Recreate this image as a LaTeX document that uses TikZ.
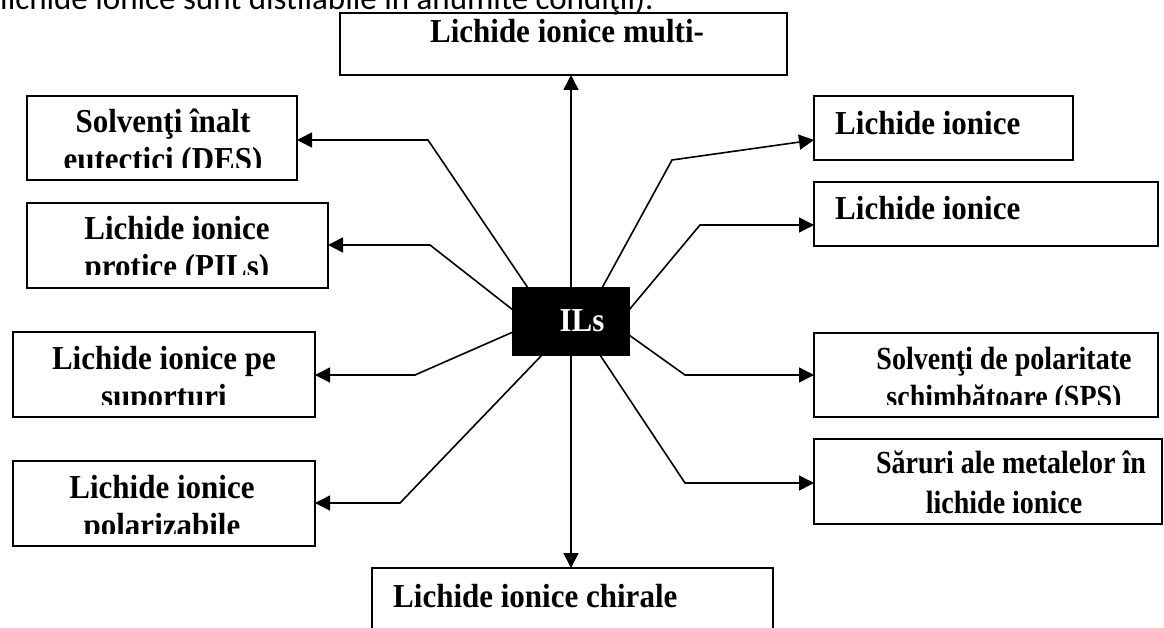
\documentclass[tikz,border=0pt]{standalone}
\usepackage{fontspec}
\usepackage{graphicx}
\setmainfont{Liberation Serif}
\newfontfamily\bodyfont{Carlito}
\usetikzlibrary{arrows.meta}
\newcommand{\tall}[1]{\scalebox{1}[1.08]{#1}}
\newcommand{\taller}[1]{\scalebox{1}[1.15]{#1}}
\begin{document}
\begin{tikzpicture}[x=1pt,y=-1pt,
  box/.style={draw=black,line width=1.8pt,rectangle,inner sep=0pt,outer sep=0pt,anchor=north west},
  lbl/.style={font=\fontsize{31}{31}\selectfont\bfseries,inner sep=0pt,anchor=base},
  lbls/.style={lbl,font=\fontsize{28}{28}\selectfont\bfseries},
  lbll/.style={lbl,anchor=base west},
  conn/.style={line width=1.6pt},
  arr/.style={conn,-{Triangle[length=15pt,width=15pt]}}]
\useasboundingbox (0,0) rectangle (1164,628);

% cut-off sentence at the top
\begin{scope}
\clip (0,0) rectangle (1164,628);
\node[font=\bodyfont\fontsize{33}{33}\selectfont,anchor=base west,inner sep=0pt] (sent) at (0,10) {lichide ionice sunt distilabile în anumite condiţii).};
\end{scope}

% boxes
\node[box,minimum width=447pt,minimum height=62pt] (multi) at (340,13) {};
\node[box,minimum width=270pt,minimum height=84pt] (des) at (27,96) {};
\node[box,minimum width=301pt,minimum height=85pt] (pil) at (27,203) {};
\node[box,minimum width=302pt,minimum height=85pt] (sup) at (13,332) {};
\node[box,minimum width=302pt,minimum height=85pt] (pol) at (13,461) {};
\node[box,minimum width=259pt,minimum height=64pt] (li1) at (814,96) {};
\node[box,minimum width=344pt,minimum height=64pt] (li2) at (814,182) {};
\node[box,minimum width=344pt,minimum height=84pt] (sps) at (814,333) {};
\node[box,minimum width=348pt,minimum height=85pt] (sar) at (814,439) {};
\node[box,minimum width=401pt,minimum height=80pt] (chi) at (372,568) {};

% bends
\coordinate (bdes) at (428,140);
\coordinate (bpil) at (430,245);
\coordinate (bsup) at (415,375);
\coordinate (bpol) at (400,503);
\coordinate (bli1) at (672,160);
\coordinate (bli2) at (700,225);
\coordinate (bsps) at (685,375);
\coordinate (bsar) at (685,483);

% centre
\node[box,fill=black,minimum width=116pt,minimum height=67pt] (ils) at (513,288) {};

% connectors
\draw[arr] ([xshift=15pt]ils.north west) -- (bdes) -- (des.east |- bdes);
\draw[arr] ([yshift=-22pt]ils.north west) -- (bpil) -- (pil.east |- bpil);
\draw[arr] ([yshift=-44pt]ils.north west) -- (bsup) -- (sup.east |- bsup);
\draw[arr] ([xshift=29pt]ils.south west) -- (bpol) -- (pol.east |- bpol);
\draw[arr] ([xshift=-27pt]ils.north east) -- (bli1) -- (li1.west |- 0,140);
\draw[arr] ([yshift=-22pt]ils.north east) -- (bli2) -- (li2.west |- bli2);
\draw[arr] ([yshift=-47pt]ils.north east) -- (bsps) -- (sps.west |- bsps);
\draw[arr] ([xshift=-29pt]ils.south east) -- (bsar) -- (sar.west |- bsar);
\draw[arr] (ils.north) -- (ils.north |- multi.south);
\draw[arr] (ils.south) -- (ils.south |- chi.north);
\node[box,fill=black,minimum width=116pt,minimum height=67pt] (ils2) at (513,288) {};

% labels
\node[lbl,text=white] (ilst) at (582,331) {\tall{ILs}};
\node[lbl] (multit) at (567,43) {\tall{Lichide ionice multi-}};
\node[lbll] (li1t) at (835,135) {\tall{Lichide ionice}};
\node[lbll] (li2t) at (835,220) {\tall{Lichide ionice}};
\node[lbll] (chit) at (393,607) {\tall{Lichide ionice chirale}};

\begin{scope}
\clip (27,96) rectangle (297,168);
\node[lbl] (des1) at (163,133) {\tall{Solvenţi înalt}};
\node[lbl] (des2) at (163,171) {\tall{eutectici (DES)}};
\end{scope}
\begin{scope}
\clip (27,203) rectangle (328,275);
\node[lbl] (pil1) at (177,240) {\tall{Lichide ionice}};
\node[lbl] (pil2) at (177,278) {\tall{protice (PILs)}};
\end{scope}
\begin{scope}
\clip (13,332) rectangle (315,404);
\node[lbl] (sup1) at (164,369) {\tall{Lichide ionice pe}};
\node[lbl] (sup2) at (164,407) {\tall{suporturi}};
\end{scope}
\begin{scope}
\clip (13,461) rectangle (315,533);
\node[lbl] (pol1) at (162,498) {\tall{Lichide ionice}};
\node[lbl] (pol2) at (162,536) {\tall{polarizabile}};
\end{scope}
\begin{scope}
\clip (814,333) rectangle (1158,404);
\node[lbls] (sps1) at (1004,369) {\taller{Solvenţi de polaritate}};
\node[lbls] (sps2) at (1004,407) {\taller{schimbătoare (SPS)}};
\end{scope}
\node[lbls] (sar1) at (1011,473) {\taller{Săruri ale metalelor în}};
\node[lbls] (sar2) at (1004,513) {\taller{lichide ionice}};
\end{tikzpicture}
\end{document}
